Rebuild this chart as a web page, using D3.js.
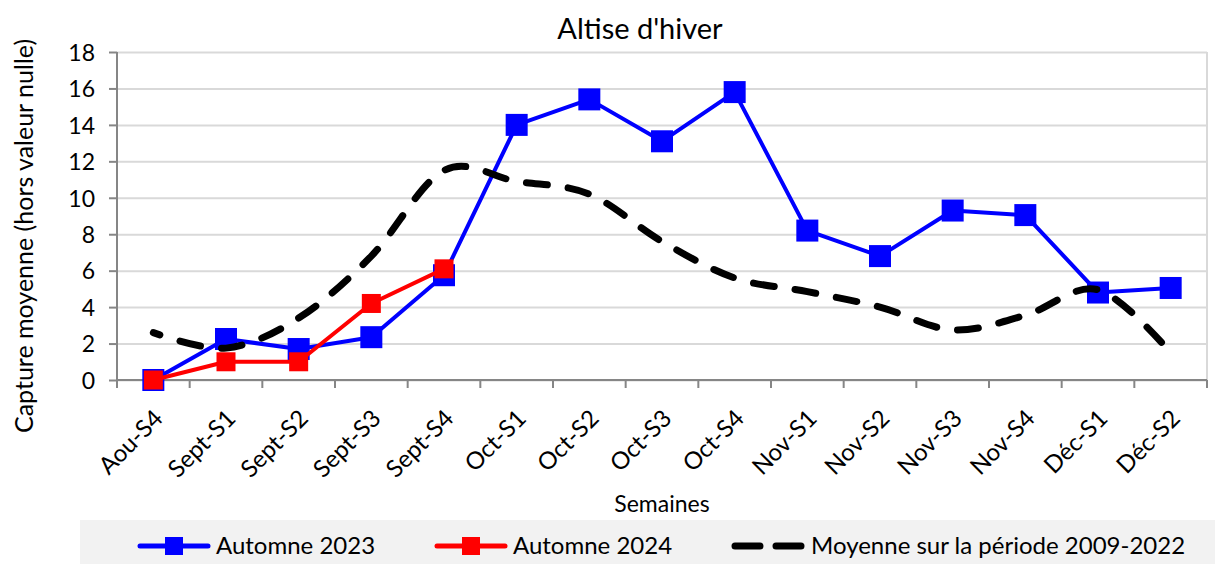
<!DOCTYPE html>
<html>
<head>
<meta charset="utf-8">
<script src="https://cdn.jsdelivr.net/npm/d3@7"></script>
<style>
  body { margin: 0; background: #fff; }
  text { font-family: Lato, "Open Sans", sans-serif; fill: #000; }
</style>
</head>
<body>
<div id="chart"></div>
<script>
var weeks = ["Aou-S4", "Sept-S1", "Sept-S2", "Sept-S3", "Sept-S4", "Oct-S1", "Oct-S2", "Oct-S3",
             "Oct-S4", "Nov-S1", "Nov-S2", "Nov-S3", "Nov-S4", "Déc-S1", "Déc-S2"];
var automne2023 = [0, 2.25, 1.7, 2.35, 5.75, 14.0, 15.4, 13.1, 15.8, 8.2, 6.8, 9.3, 9.05, 4.8, 5.05];
var automne2024 = [0, 1.0, 1.0, 4.2, 6.1];
var moyenne = [2.6, 1.75, 3.4, 6.8, 11.5, 10.9, 10.2, 7.6, 5.6, 4.85, 4.0, 2.75, 3.55, 4.95, 1.5];
var yTicks = [0, 2, 4, 6, 8, 10, 12, 14, 16, 18];

var W = 1215, H = 564;
var margin = {top: 52, right: 8, bottom: 184, left: 117},
    width = W - margin.left - margin.right,
    height = H - margin.top - margin.bottom;

var root = d3.select("#chart").append("svg")
    .attr("width", W)
    .attr("height", H);

var svg = root.append("g")
    .attr("transform", "translate(" + margin.left + "," + margin.top + ")");

var x = d3.scaleBand()
    .domain(weeks)
    .range([0, width])
    .padding(0);

var y = d3.scaleLinear()
    .domain([0, 18])
    .range([height, 0]);

function cx(d, i) { return x(weeks[i]) + x.bandwidth() / 2; }

// grid
svg.append("g")
    .attr("class", "grid")
    .call(d3.axisLeft(y).tickValues(yTicks).tickSize(-width).tickFormat(""))
    .call(function(g) {
        g.select(".domain").remove();
        g.selectAll("line").attr("stroke", "#d9d9d9").attr("stroke-width", 2);
    });

// right border of plot
svg.append("line")
    .attr("x1", width).attr("x2", width)
    .attr("y1", 0).attr("y2", height)
    .attr("stroke", "#d9d9d9").attr("stroke-width", 2);

// y axis
svg.append("g")
    .attr("class", "y axis")
    .call(d3.axisLeft(y).tickValues(yTicks).tickSize(8).tickPadding(14))
    .call(function(g) {
        g.select(".domain").attr("stroke", "#868686").attr("stroke-width", 2)
            .attr("d", "M0," + (height + 8) + "V0");
        g.selectAll("line").attr("stroke", "#868686").attr("stroke-width", 2);
        g.selectAll("text").style("font-size", "23px").attr("dy", "0.36em");
    });

// x axis
var xAxisG = svg.append("g")
    .attr("class", "x axis")
    .attr("transform", "translate(0," + height + ")")
    .call(d3.axisBottom(x).tickSize(0).tickPadding(0));

xAxisG.select(".domain").attr("stroke", "#868686").attr("stroke-width", 2)
    .attr("d", "M0,0H" + width);

xAxisG.selectAll(".tick text")
    .style("font-size", "24px")
    .style("text-anchor", "end")
    .attr("dy", "0")
    .attr("transform", "translate(11,40) rotate(-45)");

xAxisG.selectAll(".bound")
    .data(d3.range(weeks.length + 1))
    .enter().append("line")
    .attr("class", "bound")
    .attr("x1", function(i) { return i * x.step(); })
    .attr("x2", function(i) { return i * x.step(); })
    .attr("y1", 0).attr("y2", 8)
    .attr("stroke", "#868686").attr("stroke-width", 2);

// series
var line = d3.line()
    .x(function(d, i) { return cx(d, i); })
    .y(function(d) { return y(d); });

var smooth = d3.line()
    .x(function(d, i) { return cx(d, i); })
    .y(function(d) { return y(d); })
    .curve(d3.curveCardinal.tension(0));

svg.append("path")
    .datum(automne2023)
    .attr("fill", "none")
    .attr("stroke", "#0000ff")
    .attr("stroke-width", 4)
    .attr("stroke-linejoin", "round")
    .attr("d", line);

svg.selectAll(".m2023")
    .data(automne2023)
    .enter().append("rect")
    .attr("class", "m2023")
    .attr("x", function(d, i) { return cx(d, i) - 11; })
    .attr("y", function(d) { return y(d) - 11; })
    .attr("width", 22).attr("height", 22)
    .attr("fill", "#0000ff");

svg.append("path")
    .datum(automne2024)
    .attr("fill", "none")
    .attr("stroke", "#ff0000")
    .attr("stroke-width", 4)
    .attr("stroke-linejoin", "round")
    .attr("d", line);

svg.selectAll(".m2024")
    .data(automne2024)
    .enter().append("rect")
    .attr("class", "m2024")
    .attr("x", function(d, i) { return cx(d, i) - 9.5; })
    .attr("y", function(d) { return y(d) - 9.5; })
    .attr("width", 19).attr("height", 19)
    .attr("fill", "#ff0000");

svg.append("path")
    .datum(moyenne)
    .attr("fill", "none")
    .attr("stroke", "#000")
    .attr("stroke-width", 7)
    .attr("stroke-linecap", "round")
    .attr("stroke-dasharray", "21,21")
    .attr("stroke-dashoffset", 14)
    .attr("d", smooth);

// titles
root.append("text")
    .attr("x", 640).attr("y", 39)
    .style("font-size", "29px")
    .style("text-anchor", "middle")
    .text("Altise d'hiver");

root.append("text")
    .attr("transform", "translate(33,236) rotate(-90)")
    .style("font-size", "25px")
    .style("text-anchor", "middle")
    .text("Capture moyenne (hors valeur nulle)");

root.append("text")
    .attr("x", 662).attr("y", 512)
    .style("font-size", "23px")
    .style("text-anchor", "middle")
    .text("Semaines");

// legend
var leg = root.append("g");
leg.append("rect")
    .attr("x", 80).attr("y", 520)
    .attr("width", W - 80).attr("height", H - 520)
    .attr("fill", "#f2f2f2");

var legendItems = [
    {name: "Automne 2023", color: "#0000ff", x0: 140, type: "marker", size: 18},
    {name: "Automne 2024", color: "#ff0000", x0: 437, type: "marker", size: 18},
    {name: "Moyenne sur la période 2009-2022", color: "#000", x0: 735, type: "dash"}
];

var ly = 546;
legendItems.forEach(function(it) {
    if (it.type === "marker") {
        leg.append("line")
            .attr("x1", it.x0).attr("x2", it.x0 + 68)
            .attr("y1", ly).attr("y2", ly)
            .attr("stroke", it.color).attr("stroke-width", 5)
            .attr("stroke-linecap", "round");
        leg.append("rect")
            .attr("x", it.x0 + 34 - it.size / 2).attr("y", ly - it.size / 2)
            .attr("width", it.size).attr("height", it.size)
            .attr("fill", it.color);
    } else {
        leg.append("line")
            .attr("x1", it.x0).attr("x2", it.x0 + 68)
            .attr("y1", ly).attr("y2", ly)
            .attr("stroke", it.color).attr("stroke-width", 7)
            .attr("stroke-linecap", "round")
            .attr("stroke-dasharray", "25,16");
    }
    leg.append("text")
        .attr("x", it.x0 + 76).attr("y", ly + 8)
        .style("font-size", "24px")
        .text(it.name);
});
</script>
</body>
</html>
